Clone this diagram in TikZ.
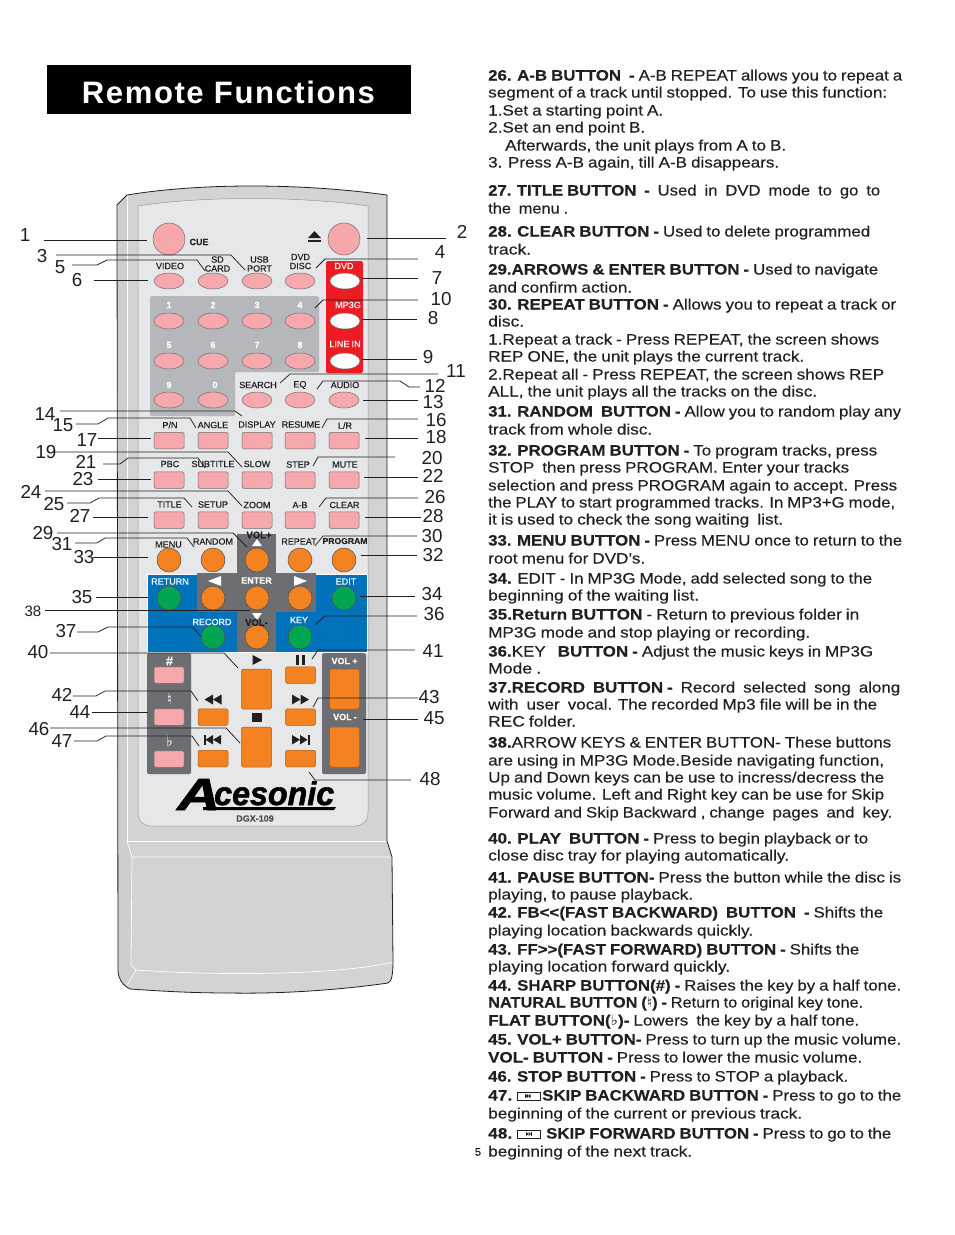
\documentclass[tikz,border=0pt]{standalone}
\usepackage{fontspec}
\usepackage{graphicx}
\usetikzlibrary{shapes.geometric}
\setmainfont{Liberation Sans}[FakeBold=0.2,WordSpace=0.85]
\newfontfamily\djv{DejaVu Sans}
\newfontfamily\numf{Liberation Sans}
\newfontfamily\logof{Liberation Sans Bold Italic}[FakeBold=1.6]
\newfontfamily\spaced[LetterSpace=5]{Liberation Sans Bold}
\definecolor{ink}{HTML}{231F20}
\definecolor{body}{HTML}{D1D3D4}
\definecolor{band}{HTML}{CDCED0}
\definecolor{panel}{HTML}{E6E7E8}
\definecolor{keypad}{HTML}{B5B7BA}
\definecolor{pinkb}{HTML}{F6A8AC}
\definecolor{orangeb}{HTML}{F58220}
\definecolor{greenb}{HTML}{00A651}
\definecolor{redp}{HTML}{ED1C24}
\definecolor{bluep}{HTML}{0072BC}
\definecolor{grayp}{HTML}{6D6E71}
\newcounter{tn}
\tikzset{
  txt/.style={anchor=base west,inner sep=0pt,text=ink,font=\fontsize{15}{15}\selectfont},
  lead/.style={draw=ink,line width=0.75pt},
  num/.style={text=ink,inner sep=0pt,font=\numf\fontsize{18.8}{20}\selectfont},
  blab/.style={text=ink,inner sep=0pt,align=center,font=\fontsize{9}{9}\selectfont},
  wlab/.style={blab,text=white},
  oval/.style={ellipse,draw=grayp,line width=0.5pt,minimum width=30pt,minimum height=16pt,inner sep=0pt,fill=pinkb},
  wov/.style={oval,fill=white},
  rbtn/.style={rectangle,rounded corners=1.5pt,draw=grayp,line width=0.5pt,minimum width=30pt,minimum height=16.5pt,inner sep=0pt,fill=pinkb},
  obtn/.style={rbtn,fill=orangeb,draw=orangeb!70!black},
  circ/.style={circle,draw=grayp!70!black,line width=0.5pt,minimum size=24pt,inner sep=0pt,fill=orangeb},
  gcirc/.style={circ,fill=greenb},
  sym/.style={fill=ink,draw=none},
  wsym/.style={fill=white,draw=none},
}
\newcommand\tlx[4]{\stepcounter{tn}\pgfmathsetmacro\twd{#3-#1}\node[txt] (t\thetn) at (#1,#2+5.5) {\resizebox{\twd pt}{\height}{#4}};}
\newcommand\tl[3]{\tlx{488}{#1}{#2}{#3}}
\newcommand\nm[3]{\node[num] (n#1) at (#2,#3) {#1};}
\newcommand\ldr[4]{\coordinate (s#1) at (#2); \coordinate (e#1) at (#4); \draw[lead] (s#1) #3 (e#1);}
\newcommand\bl[3]{\stepcounter{tn}\node[blab] (l\thetn) at (#1,#2) {#3};}
\newcommand\wl[3]{\stepcounter{tn}\node[wlab] (l\thetn) at (#1,#2) {#3};}
\begin{document}
\begin{tikzpicture}[x=1pt,y=-1pt]
\useasboundingbox (0,0) rectangle (954,1235);
\fill[white] (0,0) rectangle (954,1235);
% title
\node[rectangle,fill=black,minimum width=364pt,minimum height=49pt,inner sep=0pt] (titlebar) at (229,89.5) {};
\node[text=white,inner sep=0pt] (title) at (228.5,92) {\resizebox{293pt}{\height}{\fontsize{31}{31}\spaced Remote Functions}};
% remote body
\fill[body] (117,205) -- (127,195) .. controls (200,183) and (300,183) .. (387,195) -- (387,841) -- (392,857) -- (393,962) .. controls (393,972) and (392,982) .. (388,983) .. controls (340,990) and (280,994) .. (230,993) .. controls (190,993) and (160,991) .. (130,989) .. controls (122,985) and (118,978) .. (118,965) -- cycle;
\fill[band] (118,205) -- (127,195) -- (127,841) -- (132,857) -- (131,965) -- (136,970) -- (127,985) .. controls (120,980) and (118,975) .. (118,965) -- cycle;
\draw[white,line width=0.7pt] (127,195) -- (127,841) -- (387,841);
\draw[white,line width=0.7pt] (127,841) -- (132,857) -- (393,857);
\draw[white,line width=0.7pt] (132,857) -- (131,965) -- (136,970) .. controls (220,976) and (340,975) .. (393,962);
\draw[white,line width=0.7pt] (136,970) -- (127,985);
\draw[ink,line width=0.8pt] (118,970) -- (117,205) -- (127,195) .. controls (200,183) and (300,183) .. (387,195) -- (387,841) -- (392,857) -- (393,962) .. controls (393,972) and (392,982) .. (388,983) .. controls (340,990) and (280,994) .. (230,993) .. controls (190,993) and (160,991) .. (130,989) .. controls (122,985) and (118,978) .. (118,970);
% inner panel
\fill[panel,draw=grayp!70,line width=0.5pt] (138,206) .. controls (200,196) and (300,196) .. (368,206) -- (368,812) .. controls (368,822) and (362,826) .. (355,826) -- (152,826) .. controls (144,826) and (138,822) .. (138,812) -- cycle;
% coloured panels
\fill[keypad,rounded corners=1.5pt] (150,296) -- (319,296) -- (319,372) -- (235,372) -- (235,416) -- (150,416) -- cycle;
\fill[redp,rounded corners=1.5pt] (326,261) rectangle (363,373);
\fill[bluep,draw=white,line width=0.5pt] (147,574) rectangle (367,652);
\fill[grayp] (237,534) rectangle (276,652);
\fill[grayp] (197,573) rectangle (316,612);
\fill[grayp,rounded corners=1.5pt] (147,653) rectangle (191,774);
\fill[grayp,rounded corners=1.5pt] (322,653) rectangle (366,774);
% top buttons
\node[circle,draw=grayp,line width=0.5pt,fill=pinkb,minimum size=32pt,inner sep=0pt] (cue) at (169,239) {};
\node[circle,draw=grayp,line width=0.5pt,fill=pinkb,minimum size=32pt,inner sep=0pt] (eject) at (344,239) {};
\foreach \x/\i in {169/a,213/b,257/c,300/d}{
  \node[oval] (r1\i) at (\x,281) {};
  \node[oval] (r2\i) at (\x,321) {};
  \node[oval] (r3\i) at (\x,361) {};
}
\node[wov] (dvd) at (345,281) {};
\node[wov] (mp3) at (345,321) {};
\node[wov] (linein) at (345,361) {};
\foreach \x/\i in {169/a,213/b,257/c,300/d,344/e}{
  \node[oval] (r4\i) at (\x,400) {};
  \node[rbtn] (r5\i) at (\x,440.5) {};
  \node[rbtn] (r6\i) at (\x,480) {};
  \node[rbtn] (r7\i) at (\x,520) {};
  \node[circ] (r8\i) at (\x,560) {};
}
\node[gcirc] (c35) at (169,598) {};
\node[circ] (c38a) at (213,598) {};
\node[circ] (c38b) at (257,598) {};
\node[circ] (c38c) at (300,598) {};
\node[gcirc] (c34) at (344,598) {};
\node[gcirc] (c37) at (213,637) {};
\node[circ] (c38d) at (257,637) {};
\node[gcirc] (c36) at (300,637) {};
% lower buttons
\foreach \y/\i in {675/a,717/b,759/c}{
  \node[rbtn] (p\i) at (169,\y) {};
}
\node[obtn,minimum height=16.5pt] (s1) at (300.5,675) {};
\node[obtn] (s2) at (300.5,717) {};
\node[obtn] (s3) at (300.5,758.5) {};
\node[obtn] (s4) at (213,717) {};
\node[obtn] (s5) at (213,758.5) {};
\node[obtn,minimum height=40pt] (play) at (256.5,689) {};
\node[obtn,minimum height=40pt] (stop) at (256.5,747) {};
\node[obtn,minimum height=40pt] (volp) at (344.5,689) {};
\node[obtn,minimum height=40pt] (volm) at (344.5,747) {};
% symbols
\fill[sym] (308,238) -- (321,238) -- (314.5,231) -- cycle;
\fill[sym] (308,239.5) rectangle (321,242);
\fill[sym] (252.5,655) -- (262,660) -- (252.5,665) -- cycle;
\fill[sym] (295.5,655) rectangle (299,664.5);
\fill[sym] (301.5,655) rectangle (305,664.5);
\fill[sym] (252,713) rectangle (261.5,722);
\fill[sym] (204.5,699.5) -- (213,694.5) -- (213,704.5) -- cycle;
\fill[sym] (213,699.5) -- (221.5,694.5) -- (221.5,704.5) -- cycle;
\fill[sym] (292,694.5) -- (300.5,699.5) -- (292,704.5) -- cycle;
\fill[sym] (300.5,694.5) -- (309,699.5) -- (300.5,704.5) -- cycle;
\fill[sym] (204,735) rectangle (205.5,744.5);
\fill[sym] (205.5,739.7) -- (213,735) -- (213,744.5) -- cycle;
\fill[sym] (213,739.7) -- (221,735) -- (221,744.5) -- cycle;
\fill[sym] (292,735) -- (300,739.7) -- (292,744.5) -- cycle;
\fill[sym] (300,735) -- (307.5,739.7) -- (300,744.5) -- cycle;
\fill[sym] (307.5,735) rectangle (309.5,744.5);
\fill[wsym] (252,546) -- (257,539) -- (262,546) -- cycle;
\fill[wsym] (208,581) -- (221,576) -- (221,586) -- cycle;
\fill[wsym] (294,576) -- (307,581) -- (294,586) -- cycle;
\fill[wsym] (252,613) -- (262,613) -- (257,620) -- cycle;
% button labels
\bl{199}{242}{\textbf{CUE}}
\bl{170}{266}{VIDEO}
\bl{217.5}{264}{SD\\CARD}
\bl{259.5}{264}{USB\\PORT}
\bl{300.5}{261.5}{DVD\\DISC}
\wl{344}{266}{DVD}
\wl{348}{305}{MP3G}
\wl{345}{344}{LINE IN}
\foreach \x/\t in {169/1,213/2,257/3,300/4}{\node[wlab] (k\t) at (\x,305) {\textbf{\t}};}
\foreach \x/\t in {169/5,213/6,257/7,300/8}{\node[wlab] (k\t) at (\x,345) {\textbf{\t}};}
\foreach \x/\t in {169/9,215/0}{\node[wlab] (k\t) at (\x,385) {\textbf{\t}};}
\bl{258}{385}{SEARCH}
\bl{300}{385}{EQ}
\bl{345}{385}{AUDIO}
\bl{170}{425}{P/N}
\bl{213}{425}{ANGLE}
\bl{257}{424.5}{DISPLAY}
\bl{301}{424.5}{RESUME}
\bl{345}{425.5}{L/R}
\bl{170}{464}{PBC}
\bl{213}{464}{SUBTITLE}
\bl{257}{464}{SLOW}
\bl{298}{464.5}{STEP}
\bl{345}{464.5}{MUTE}
\bl{169.5}{504.5}{TITLE}
\bl{213}{504.5}{SETUP}
\bl{257}{505}{ZOOM}
\bl{300}{505}{A-B}
\bl{344.5}{505}{CLEAR}
\bl{168.5}{544.5}{MENU}
\bl{213}{541.5}{RANDOM}
\bl{299}{541.5}{REPEAT}
\bl{345}{541}{\fontsize{8.6}{9}\selectfont\textbf{PROGRAM}}
\bl{259}{535}{\fontsize{9.5}{10}\selectfont\textbf{VOL+}}
\bl{256.5}{622.5}{\fontsize{9.5}{10}\selectfont\textbf{VOL-}}
\wl{170}{581.5}{RETURN}
\wl{256.5}{580.5}{\textbf{ENTER}}
\wl{346}{581.5}{EDIT}
\wl{212}{622}{RECORD}
\wl{299}{620}{KEY}
\wl{344.5}{661}{\textbf{VOL +}}
\wl{345}{717}{\textbf{VOL -}}
\wl{169.5}{661}{\fontsize{13}{13}\selectfont\textbf{\#}}
\wl{169.5}{699}{\djv\fontsize{15}{15}\selectfont\textbf{♮}}
\wl{169.5}{741}{\djv\fontsize{15}{15}\selectfont\textit{\textbf{♭}}}
% logo
\node[anchor=base west,inner sep=0pt,text=black] (logoA) at (177,810) {\resizebox{43pt}{\height}{\logof\fontsize{45}{45}\selectfont A}};
\node[anchor=base west,inner sep=0pt,text=black] (logoB) at (214,805) {\resizebox{120pt}{\height}{\logof\fontsize{33}{33}\selectfont cesonic}};
\fill[black] (203,807) -- (336,807) -- (334,810) -- (203,810) -- cycle;
\node[text=ink!80,inner sep=0pt,font=\fontsize{9}{9}\selectfont\bfseries] (model) at (255,818.5) {DGX-109};
% leaders
\ldr{1}{44,240}{--}{147,240}
\ldr{2}{367,238}{--}{446,238}
\ldr{3}{56,255}{-- (231,255) --}{245,270}
\ldr{4}{316,268}{-- (325,259) --}{418,259}
\ldr{5}{72,265}{-- (97,265) -- (107,260) -- (197,260) --}{205,271}
\ldr{6}{94,280}{--}{148,280}
\ldr{7}{362,278}{--}{418,278}
\ldr{8}{362,319}{--}{417,319}
\ldr{9}{362,359}{--}{417,359}
\ldr{10}{315,308}{-- (323,300) --}{418,300}
\ldr{11}{280,383}{-- (290,374) --}{438,374}
\ldr{12}{317,389}{-- (323,381) -- (400,381) -- (409,387) --}{420,387}
\ldr{13}{363,400}{--}{418,400}
\ldr{14}{60,411}{-- (235,411) --}{242,416}
\ldr{15}{76,424}{-- (98,424) -- (108,418) -- (190,418) --}{196,428}
\ldr{16}{322,428}{-- (327,419) --}{418,419}
\ldr{17}{98,438}{--}{151,438}
\ldr{18}{365,438}{--}{418,438}
\ldr{19}{52,452}{-- (228,452) --}{242,467}
\ldr{20}{313,466}{-- (318,457) --}{395,457}
\ldr{21}{103,464}{-- (120,464) -- (128,458) -- (198,458) --}{205,468}
\ldr{22}{364,477}{--}{418,477}
\ldr{23}{98,479}{--}{151,479}
\ldr{24}{45,491}{-- (228,491) --}{242,506}
\ldr{25}{67,503}{-- (90,503) -- (99,498) -- (184,498) --}{192,507}
\ldr{26}{319,507}{-- (326,498) --}{418,498}
\ldr{27}{93,517}{--}{148,517}
\ldr{28}{365,517}{--}{421,517}
\ldr{29}{57,533}{-- (233,533) --}{247,547}
\ldr{30}{315,546}{-- (323,536) --}{417,536}
\ldr{31}{75,543}{-- (97,543) -- (105,538) -- (187,538) --}{194,547}
\ldr{32}{361,555}{--}{417,555}
\ldr{33}{93,557}{--}{148,557}
\ldr{34}{360,596}{--}{415,596}
\ldr{35}{96,597}{--}{148,597}
\ldr{36}{315,625}{-- (325,616) --}{417,616}
\ldr{37}{77,632}{-- (98,632) -- (108,627) -- (193,627) --}{201,637}
\ldr{38}{45,610}{--}{250,610}
\ldr{40}{50,653}{-- (224,653) --}{238,668}
\ldr{41}{312,659}{-- (318,650) --}{415,650}
\ldr{42}{73,696}{-- (96,696) -- (105,691) -- (191,691) --}{198,701}
\ldr{43}{313,707}{-- (318,698) --}{418,698}
\ldr{44}{92,712}{--}{148,712}
\ldr{45}{363,719}{--}{418,719}
\ldr{46}{50,728}{-- (226,728) --}{240,743}
\ldr{47}{74,741}{-- (97,741) -- (106,736) -- (192,736) --}{199,746}
\ldr{48}{309,772}{-- (315,780) --}{411,780}
% number labels
\nm{1}{25}{235}\nm{2}{462}{232}\nm{3}{42}{256}\nm{4}{440}{252}\nm{5}{60}{267}\nm{6}{77}{280}
\nm{7}{437}{278}\nm{8}{433}{318}\nm{9}{428}{357}\nm{10}{441}{299}\nm{11}{456}{371}\nm{12}{435}{385.5}
\nm{13}{433}{402.5}\nm{14}{45}{414}\nm{15}{63}{425}\nm{16}{436}{420}\nm{17}{87}{440}\nm{18}{436}{437}
\nm{19}{46}{452}\nm{20}{432}{458}\nm{21}{86}{462}\nm{22}{433}{476}\nm{23}{83}{479}\nm{24}{31}{492}
\nm{25}{54}{504}\nm{26}{435}{497}\nm{27}{80}{516}\nm{28}{433}{516}\nm{29}{43}{533}\nm{30}{432}{536}
\nm{31}{62}{544}\nm{32}{433}{555}\nm{33}{84}{557}\nm{34}{432}{594}\nm{35}{82}{597}\nm{36}{434}{614}
\nm{37}{66}{631}
\node[num,font=\numf\fontsize{15}{15}\selectfont] (n38) at (33,611) {38};
\nm{40}{38}{652}\nm{41}{433}{651}\nm{42}{62}{695}\nm{43}{429}{697}\nm{44}{80}{712}\nm{45}{434}{718}
\nm{46}{39}{729}\nm{47}{62}{741}\nm{48}{430}{779}
% right column
\tl{75}{902}{\textbf{26. A-B BUTTON\ \ -} A-B REPEAT allows you to repeat a}
\tl{92}{887}{segment of a track until stopped. To use this function:}
\tl{110}{663}{1.Set a starting point A.}
\tl{127}{645}{2.Set an end point B.}
\tlx{505}{145}{786}{Afterwards, the unit plays from A to B.}
\tl{162}{779}{3. Press A-B again, till A-B disappears.}
\tl{190}{880}{\textbf{27. TITLE BUTTON\ \ -}\ \ Used\ \ in\ \ DVD\ \ mode\ \ to\ \ go\ \ to}
\tl{208}{568}{the\ \ menu .}
\tl{231}{870}{\textbf{28. CLEAR BUTTON -} Used to delete programmed}
\tl{249}{531}{track.}
\tl{269}{878}{\textbf{29.ARROWS \& ENTER BUTTON -} Used to navigate}
\tl{287}{632}{and confirm action.}
\tl{304}{896}{\textbf{30. REPEAT BUTTON -} Allows you to repeat a track or}
\tl{321}{524}{disc.}
\tl{339}{879}{1.Repeat a track - Press REPEAT, the screen shows}
\tl{356}{804}{REP ONE, the unit plays the current track.}
\tl{374}{884}{2.Repeat all - Press REPEAT, the screen shows REP}
\tl{391}{817}{ALL, the unit plays all the tracks on the disc.}
\tl{411}{901}{\textbf{31. RANDOM\ \ BUTTON -} Allow you to random play any}
\tl{429}{652}{track from whole disc.}
\tl{450}{877}{\textbf{32. PROGRAM BUTTON -} To program tracks, press}
\tl{467}{849}{STOP\ \ then press PROGRAM. Enter your tracks}
\tl{485}{897}{selection and press PROGRAM again to accept. Press}
\tl{502}{895}{the PLAY to start programmed tracks. In MP3+G mode,}
\tl{519}{783}{it is used to check the song waiting\ \ list.}
\tl{540}{902}{\textbf{33. MENU BUTTON -} Press MENU once to return to the}
\tl{558}{645}{root menu for DVD's.}
\tl{578}{872}{\textbf{34.} EDIT - In MP3G Mode, add selected song to the}
\tl{595}{699}{beginning of the waiting list.}
\tl{614}{859}{\textbf{35.Return BUTTON} - Return to previous folder in}
\tl{632}{810}{MP3G mode and stop playing or recording.}
\tl{651}{873}{\textbf{36.}KEY\ \ \ \textbf{BUTTON -} Adjust the music keys in MP3G}
\tl{668}{541}{Mode\ .}
\tl{687}{900}{\textbf{37.RECORD\ \ BUTTON -}\ \ Record\ \ selected\ \ song\ \ along}
\tl{704}{877}{with\ \ user\ \ vocal. The recorded Mp3 file will be in the}
\tl{721}{576}{REC folder.}
\tl{742}{891}{\textbf{38.}ARROW KEYS \& ENTER BUTTON- These buttons}
\tl{760}{884}{are using in MP3G Mode.Beside navigating function,}
\tl{777}{884}{Up and Down keys can be use to incress/decress the}
\tl{794}{884}{music volume. Left and Right key can be use for Skip}
\tl{812}{892}{Forward and Skip Backward , change\ \ pages\ \ and\ \ key.}
\tl{838}{868}{\textbf{40. PLAY\ \ BUTTON -} Press to begin playback or to}
\tl{855}{789}{close disc tray for playing automatically.}
\tl{877}{901}{\textbf{41. PAUSE BUTTON-} Press the button while the disc is}
\tl{894}{693}{playing, to pause playback.}
\tl{912}{883}{\textbf{42. FB<{}<(FAST BACKWARD)\ \ BUTTON\ \ -} Shifts the}
\tl{930}{753}{playing location backwards quickly.}
\tl{949}{859}{\textbf{43. FF>{}>(FAST FORWARD) BUTTON -} Shifts the}
\tl{966}{730}{playing location forward quickly.}
\tl{985}{901}{\textbf{44. SHARP BUTTON(\#) -} Raises the key by a half tone.}
\tl{1002}{863}{\textbf{NATURAL BUTTON (}{\djv\fontsize{14}{14}\selectfont\textit{♮}}\textbf{) -} Return to original key tone.}
\tl{1020}{859}{\textbf{FLAT BUTTON(}{\djv\fontsize{14}{14}\selectfont\textit{♭}}\textbf{)-} Lowers\ \ the key by a half tone.}
\tl{1039}{901}{\textbf{45. VOL+ BUTTON-} Press to turn up the music volume.}
\tl{1057}{862}{\textbf{VOL- BUTTON -} Press to lower the music volume.}
\tl{1076}{848}{\textbf{46. STOP BUTTON -} Press to STOP a playback.}
\tlx{488}{1095}{512}{\textbf{47.}}
\tlx{542}{1095}{901}{\textbf{SKIP BACKWARD BUTTON -} Press to go to the}
\tl{1113}{802}{beginning of the current or previous track.}
\tlx{488}{1133}{512}{\textbf{48.}}
\tlx{546}{1133}{891}{\textbf{SKIP FORWARD BUTTON -} Press to go to the}
\tl{1151}{692}{beginning of the next track.}
\node[inner sep=0pt,text=ink,font=\fontsize{11}{11}\selectfont] (pageno) at (478,1152) {5};
% inline icons
\node[rectangle,draw=ink,line width=0.5pt,minimum width=23pt,minimum height=8pt,inner sep=0pt] (ico47) at (528.5,1096) {};
\node[rectangle,draw=ink,line width=0.5pt,minimum width=23pt,minimum height=8pt,inner sep=0pt] (ico48) at (528.5,1134) {};
\fill[sym] (525,1094) rectangle (525.5,1098);
\fill[sym] (525.5,1096) -- (528,1094) -- (528,1098) -- cycle;
\fill[sym] (528,1096) -- (530.5,1094) -- (530.5,1098) -- cycle;
\fill[sym] (526,1132) -- (528.5,1134) -- (526,1136) -- cycle;
\fill[sym] (528.5,1132) -- (531,1134) -- (528.5,1136) -- cycle;
\fill[sym] (531,1132) rectangle (531.5,1136);
\end{tikzpicture}
\end{document}
